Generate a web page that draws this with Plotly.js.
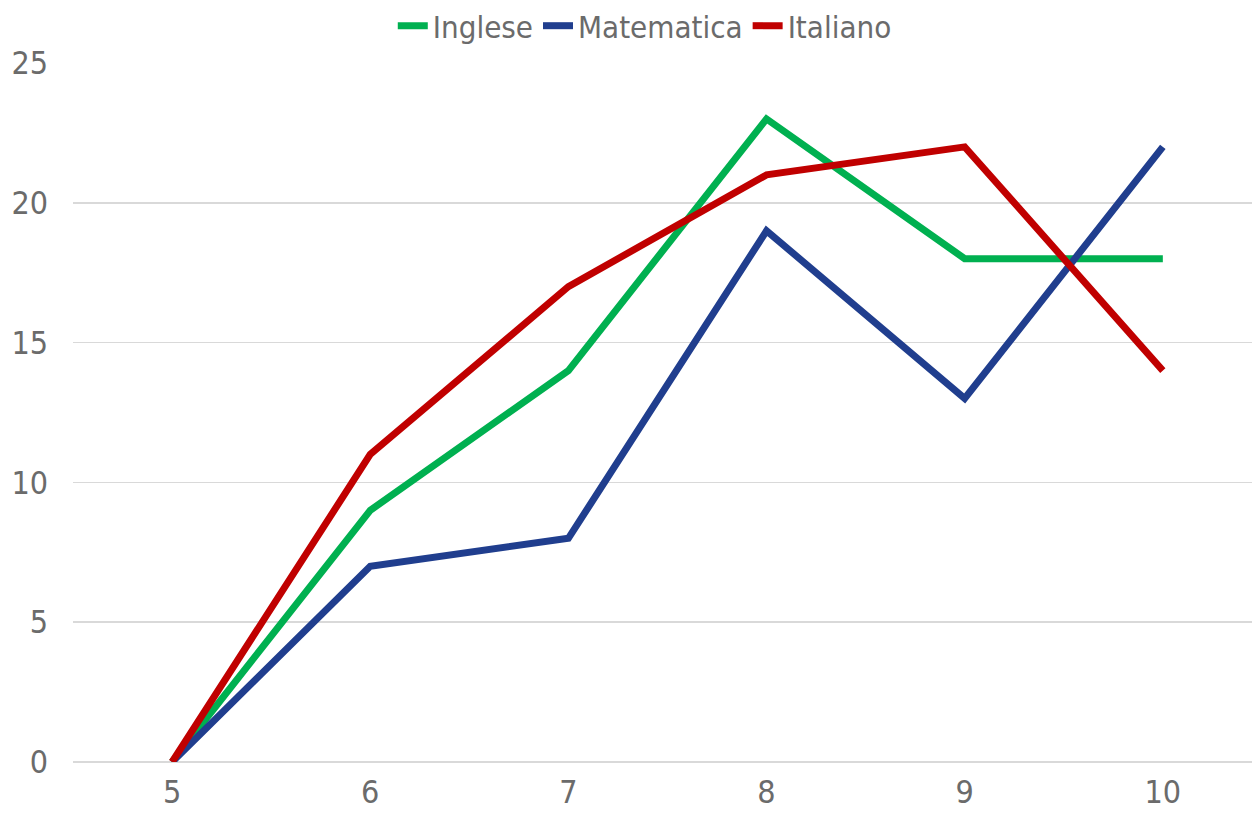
<!DOCTYPE html>
<html><head><meta charset="utf-8">
<script src="https://cdn.plot.ly/plotly-3.0.1.min.js"></script>
<style>html,body{margin:0;padding:0;background:#fff}#chart{width:1252px;height:814px}</style>
</head><body><div id="chart"></div>
<script>
const categories = ["5","6","7","8","9","10"];
const inglese = [0, 9, 14, 23, 18, 18];
const matematica = [0, 7, 8, 19, 13, 22];
const italiano = [0, 11, 17, 21, 22, 14];
const seriesNames = ["Inglese","Matematica","Italiano"];
const colors = ["#00b050","#203e8e","#c00000"];
const font = "DejaVu Sans Condensed, sans-serif";
const data = [inglese, matematica, italiano].map((v,i)=>({
  type:"scatter", mode:"lines", x:categories, y:v, name:seriesNames[i],
  line:{color:colors[i], width:7}
}));
const layout = {
  width:1252, height:814,
  margin:{l:73, r:0, t:63, b:52, autoexpand:false},
  paper_bgcolor:"#fff", plot_bgcolor:"#fff",
  font:{family:font, size:32, color:"#6b6b6b"},
  showlegend:true,
  legend:{orientation:"h", x:0.515, xanchor:"center", xref:"container", yref:"container", y:0.968, yanchor:"middle",
          font:{family:font, size:31, color:"#6b6b6b"}, itemwidth:30, tracegroupgap:0},
  xaxis:{type:"category", range:[-0.5,5.45], showgrid:false, zeroline:false,
         showline:false, ticks:"", tickfont:{size:32, color:"#6b6b6b"}, ticklabelstandoff:8},
  yaxis:{range:[0,25], dtick:5, tick0:0, showgrid:true, gridcolor:"#d9d9d9", gridwidth:1.5,
         zeroline:true, zerolinecolor:"#d9d9d9", zerolinewidth:2, showline:false, ticks:"",
         tickfont:{size:32, color:"#6b6b6b"}, ticklabelstandoff:24}
};
Plotly.newPlot("chart", data, layout, {displayModeBar:false, staticPlot:true});
</script></body></html>
